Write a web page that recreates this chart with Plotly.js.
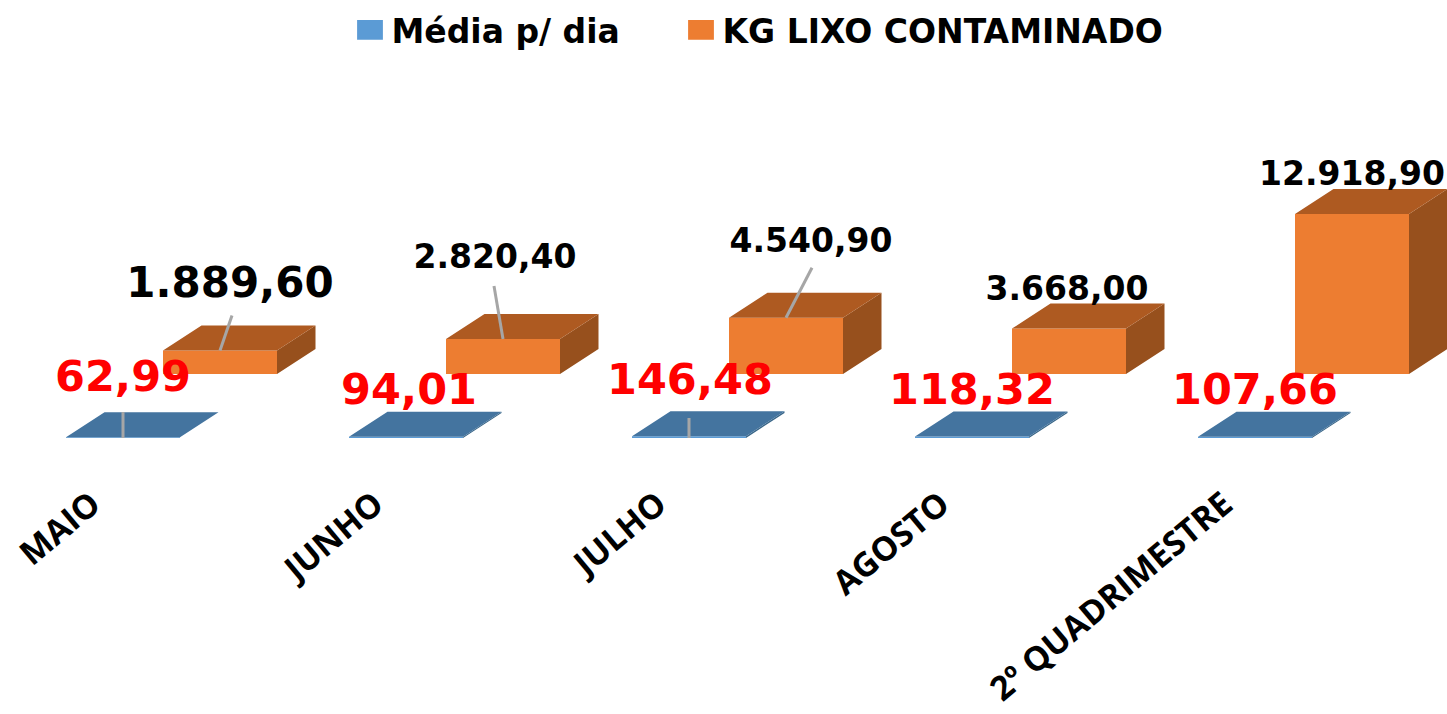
<!DOCTYPE html>
<html>
<head>
<meta charset="utf-8">
<script src="https://cdn.plot.ly/plotly-3.0.1.min.js"></script>
<style>html,body{margin:0;padding:0;background:#fff;overflow:hidden}#c{width:1447px;height:714px}</style>
</head>
<body>
<div id="c"></div>
<script>
// ---- data ----
const categories = ['MAIO', 'JUNHO', 'JULHO', 'AGOSTO', '2º QUADRIMESTRE'];
const mediaDia = [62.99, 94.01, 146.48, 118.32, 107.66];
const kgLixo = [1889.60, 2820.40, 4540.90, 3668.00, 12918.90];
const mediaLabels = ['62,99', '94,01', '146,48', '118,32', '107,66'];
const kgLabels = ['1.889,60', '2.820,40', '4.540,90', '3.668,00', '12.918,90'];

// ---- label placement (pixels relative to the top-centre of each column) ----
const mediaLabelDx = [0, 3, 1, 0, 0];
const mediaLabelDy = [-58, -45, -55, -45, -45];
const kgLabelDx = [10, -8, 25, -2, 0];
const kgLabelDy = [-64, -79, -74, -37, -37];
const kgFontSize = [42, 33, 33, 33, 33];
const kgLeaderDx = [12, -9, 26, 0, 0];
const kgLeaderDy = [-35, -53, -50, 0, 0];
const mediaLeaderDy = [-26, 0, -20, 0, 0];

// ---- geometry (pixels on the 1447x714 canvas) ----
const W = 1447, H = 714;
const stepPx = 283, firstCenterPx = 123, zeroPx = 438, axisPx = 477;
const pxPerUnit = 160 / 12918.9;
const barPx = 114, depthXPx = 38.5, depthYPx = 25;
const seriesShiftXPx = 97, seriesShiftYPx = 64;

const dx = px => px / stepPx;
const dy = px => px / pxPerUnit;
const xRange = [dx(-firstCenterPx), dx(W - firstCenterPx)];
const yRange = [dy(zeroPx - axisPx), dy(zeroPx)];
const idx = categories.map((_, i) => i);

function faces(values, shiftX, base) {
  const top = { x: [], y: [] }, side = { x: [], y: [] };
  const hw = dx(barPx) / 2, ddx = dx(depthXPx), ddy = dy(depthYPx);
  values.forEach((v, i) => {
    const l = i + shiftX - hw, r = i + shiftX + hw, t = base + v;
    top.x.push(l, r, r + ddx, l + ddx, l, null);
    top.y.push(t, t, t + ddy, t + ddy, t, null);
    side.x.push(r, r + ddx, r + ddx, r, r, null);
    side.y.push(base, base + ddy, t + ddy, t, base, null);
  });
  return { top, side };
}
const face = (f, color) => ({
  type: 'scatter', mode: 'lines', x: f.x, y: f.y, fill: 'toself', fillcolor: color,
  line: { width: 0, color: color }, showlegend: false, hoverinfo: 'skip'
});

const kgShift = dx(seriesShiftXPx), kgBase = dy(seriesShiftYPx);
const fMedia = faces(mediaDia, 0, 0);
const fKg = faces(kgLixo, kgShift, kgBase);

// leader lines
const leader = { x: [], y: [] };
mediaDia.forEach((v, i) => {
  if (mediaLeaderDy[i]) { leader.x.push(i, i, null); leader.y.push(0, dy(-mediaLeaderDy[i]), null); }
});
kgLixo.forEach((v, i) => {
  if (kgLeaderDy[i]) {
    leader.x.push(i + kgShift, i + kgShift + dx(kgLeaderDx[i]), null);
    leader.y.push(kgBase + v, kgBase + v + dy(-kgLeaderDy[i]), null);
  }
});

const traces = [
  { type: 'bar', name: 'Média p/ dia', x: idx, y: mediaDia, width: dx(barPx),
    marker: { color: '#5b9bd5' }, hoverinfo: 'skip', legend: 'legend' },
  { type: 'bar', name: 'KG LIXO CONTAMINADO', x: idx.map(i => i + kgShift), y: kgLixo, base: kgLixo.map(() => kgBase),
    width: dx(barPx), marker: { color: '#ed7d31' }, hoverinfo: 'skip', legend: 'legend2' },
  face(fMedia.side, '#3a6789'), face(fMedia.top, '#44749f'),
  face(fKg.side, '#97501d'), face(fKg.top, '#ae5a21'),
  { type: 'scatter', mode: 'lines', x: leader.x, y: leader.y, line: { color: '#a6a6a6', width: 3 },
    showlegend: false, hoverinfo: 'skip' },
  { type: 'scatter', mode: 'text', showlegend: false, hoverinfo: 'skip',
    x: idx.map(i => i + dx(mediaLabelDx[i])), y: mediaDia.map((v, i) => dy(-mediaLabelDy[i])),
    text: mediaLabels, textposition: 'middle center',
    textfont: { family: 'DejaVu Sans', size: 43, color: '#ff0000', weight: 'bold' } },
  { type: 'scatter', mode: 'text', showlegend: false, hoverinfo: 'skip',
    x: idx.map(i => i + kgShift + dx(kgLabelDx[i])), y: kgLixo.map((v, i) => kgBase + v + dy(-kgLabelDy[i])),
    text: kgLabels, textposition: 'middle center',
    textfont: { family: 'DejaVu Sans', size: kgFontSize, color: '#000000', weight: 'bold' } }
];

const legendBase = (xPx) => ({
  orientation: 'h', x: xPx / W, xanchor: 'left', y: 1 - 2 / axisPx, yanchor: 'top',
  itemwidth: 33,
  font: { family: 'DejaVu Sans', size: 33, color: '#000', weight: 'bold' },
  bgcolor: 'rgba(0,0,0,0)'
});

const layout = {
  width: W, height: H, paper_bgcolor: '#fff', plot_bgcolor: 'rgba(0,0,0,0)',
  margin: { l: 0, r: 0, t: 0, b: H - axisPx, pad: 0 },
  barmode: 'overlay', hovermode: false, showlegend: true,
  legend: legendBase(348.5),
  legend2: legendBase(679.5),
  xaxis: { range: xRange, tickmode: 'array', tickvals: idx.map(i => i - dx(31)), ticktext: categories,
    tickangle: -40, ticks: '', showgrid: false, zeroline: false, showline: false, automargin: false,
    tickfont: { family: 'Open Sans', size: 33.5, color: '#000', weight: 'bold' } },
  yaxis: { range: yRange, visible: false, fixedrange: true, showgrid: false, zeroline: false }
};

Plotly.newPlot('c', traces, layout, { displayModeBar: false, staticPlot: true }).then(() => {
  // enlarge the legend swatches to the size used in the reference
  document.querySelectorAll('.legendpoints path').forEach(p => {
    p.setAttribute('transform', (p.getAttribute('transform') || '') + ' scale(2.15,1.65)');
  });
});
</script>
</body>
</html>
